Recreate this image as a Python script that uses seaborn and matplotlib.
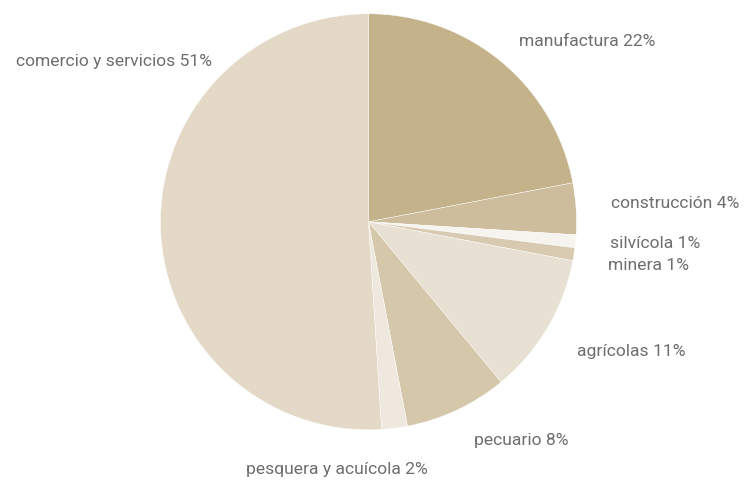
import matplotlib.pyplot as plt
import seaborn as sns

sns.set_theme(style="white")
plt.rcParams['font.family'] = ['Roboto', 'DejaVu Sans']

# Sectors, clockwise from the top
sectors = ["manufactura", "construcción", "silvícola", "minera",
           "agrícolas", "pecuario", "pesquera y acuícola", "comercio y servicios"]
shares = [22, 4, 1, 1, 11, 8, 2, 51]
colors = ["#C4B28A", "#CDBD9C", "#F6F4EF", "#D7CAB0",
          "#E8E0D2", "#D5C7AA", "#EFE8DE", "#E3D9C6"]

# pixel geometry of the pie in the figure
cx, cy, r = 368.5, 222.8, 208.0

# label anchors in figure pixels and alignment
label_px = [(519, 42, "left"), (611, 204, "left"), (610, 244, "left"),
            (608, 266, "left"), (577, 352, "left"), (474, 441, "left"),
            (337, 470, "center"), (212, 62, "right")]

fig = plt.figure(figsize=(7.44, 4.81), dpi=100)
ax = fig.add_axes([0, 0, 1, 1])

wedges, _ = ax.pie(shares, colors=colors, startangle=90, counterclock=False,
                   radius=1, center=(0, 0),
                   wedgeprops=dict(edgecolor="white", linewidth=0.3))

for name, val, (px, py, ha) in zip(sectors, shares, label_px):
    ax.text((px - cx) / r, (cy - py) / r, f"{name} {val}%", ha=ha, va="center",
            fontsize=12.6, color="#6E6E6E")

ax.set_xlim(-cx / r, (744 - cx) / r)
ax.set_ylim(-(481 - cy) / r, cy / r)
ax.set_aspect("equal")
ax.axis("off")

fig.savefig("out.png", dpi=100, facecolor="white")
